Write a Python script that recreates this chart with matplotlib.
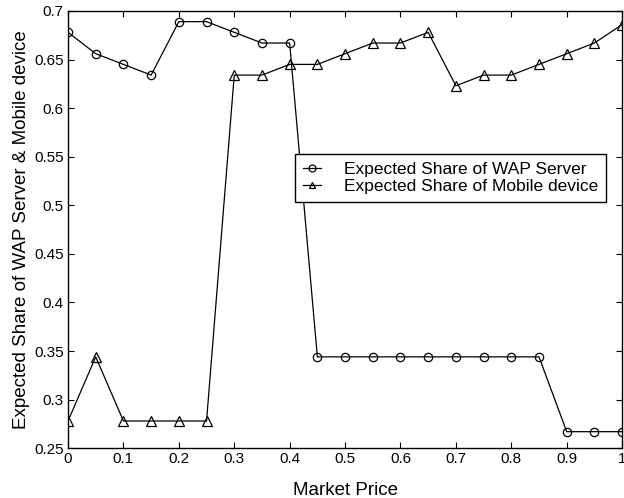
import matplotlib
matplotlib.use("Agg")
import matplotlib.pyplot as plt

plt.rcParams['font.family'] = ['Liberation Sans', 'DejaVu Sans']

# market price grid
price = [0.0, 0.05, 0.1, 0.15, 0.2, 0.25, 0.3, 0.35, 0.4, 0.45, 0.5,
         0.55, 0.6, 0.65, 0.7, 0.75, 0.8, 0.85, 0.9, 0.95, 1.0]

wap_share = [0.678, 0.656, 0.645, 0.634, 0.689, 0.689, 0.678, 0.667, 0.667, 0.344, 0.344,
             0.344, 0.344, 0.344, 0.344, 0.344, 0.344, 0.344, 0.267, 0.267, 0.267]

mobile_share = [0.278, 0.344, 0.278, 0.278, 0.278, 0.278, 0.634, 0.634, 0.645, 0.645, 0.656,
                0.667, 0.667, 0.678, 0.623, 0.634, 0.634, 0.645, 0.656, 0.667, 0.686]

x_ticks = [0, 0.1, 0.2, 0.3, 0.4, 0.5, 0.6, 0.7, 0.8, 0.9, 1]
x_labels = ['0', '0.1', '0.2', '0.3', '0.4', '0.5', '0.6', '0.7', '0.8', '0.9', '1']
y_ticks = [0.25, 0.3, 0.35, 0.4, 0.45, 0.5, 0.55, 0.6, 0.65, 0.7]
y_labels = ['0.25', '0.3', '0.35', '0.4', '0.45', '0.5', '0.55', '0.6', '0.65', '0.7']

fig = plt.figure(figsize=(6.24, 4.98), dpi=100)
ax = fig.add_axes([0.109, 0.100, 0.888, 0.878])

ax.plot(price, wap_share, color='k', lw=0.9, marker='o', ms=6,
        mfc='none', mec='k', mew=0.9, label='Expected Share of WAP Server')
ax.plot(price, mobile_share, color='k', lw=0.9, marker='^', ms=7,
        mfc='none', mec='k', mew=0.9, label='Expected Share of Mobile device')

ax.set_xlim(0, 1)
ax.set_ylim(0.25, 0.7)
ax.set_xticks(x_ticks)
ax.set_xticklabels(x_labels)
ax.set_yticks(y_ticks)
ax.set_yticklabels(y_labels)
ax.tick_params(direction='in', top=True, right=True, labelsize=11, length=4, pad=3)
for s in ax.spines.values():
    s.set_linewidth(1.0)

ax.set_xlabel('Market Price', fontsize=13.5, labelpad=11)
ax.set_ylabel('Expected Share of WAP Server & Mobile device', fontsize=13.5, labelpad=3)

leg = ax.legend(loc='upper right', bbox_to_anchor=(0.971, 0.672), fontsize=12.5,
                fancybox=False, edgecolor='k', framealpha=1, handlelength=1.05,
                borderpad=0.45, labelspacing=0.1, handletextpad=1.3, borderaxespad=0)
leg.get_frame().set_linewidth(1.0)
for h in leg.legend_handles:
    h.set_markersize(5)

fig.savefig('out.png', dpi=100)
